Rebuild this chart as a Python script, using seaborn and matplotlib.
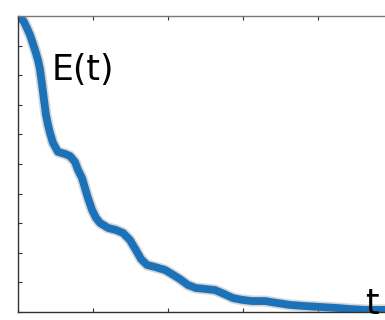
import matplotlib
matplotlib.use("Agg")
import matplotlib.pyplot as plt
import seaborn as sns
import pandas as pd

# E(t) (t in axis units 0..5, E in axis units 0..10)
t_vals = [0.01, 0.04, 0.08, 0.12, 0.16, 0.187, 0.227, 0.267, 0.293, 0.32,
          0.347, 0.373, 0.40, 0.427, 0.467, 0.533, 0.627, 0.693, 0.76, 0.80,
          0.853, 0.893, 0.933, 0.987, 1.04, 1.093, 1.2, 1.307, 1.4, 1.493,
          1.573, 1.64, 1.72, 1.827, 1.96, 2.053, 2.16, 2.267, 2.373, 2.493,
          2.627, 2.747, 2.867, 2.987, 3.12, 3.293, 3.467, 3.627, 3.827, 4.027,
          4.227, 4.427, 4.627, 4.893]
e_vals = [10.0, 9.93, 9.80, 9.59, 9.36, 9.16, 8.85, 8.51, 8.20, 7.70,
          7.16, 6.66, 6.32, 6.05, 5.71, 5.41, 5.34, 5.27, 5.07, 4.80,
          4.53, 4.19, 3.85, 3.45, 3.18, 3.01, 2.84, 2.77, 2.67, 2.43,
          2.09, 1.79, 1.59, 1.52, 1.42, 1.28, 1.11, 0.91, 0.81, 0.78,
          0.74, 0.61, 0.47, 0.41, 0.37, 0.37, 0.30, 0.24, 0.20, 0.17,
          0.14, 0.10, 0.07, 0.07]
x_ticks = [0, 1, 2, 3, 4, 5]
y_ticks = list(range(0, 11))

df = pd.DataFrame({"t": t_vals, "E": e_vals})

sns.set_theme(style="white")
plt.rcParams["font.family"] = ["DejaVu Sans"]

fig = plt.figure(figsize=(3.85, 3.2), dpi=100)
ax = fig.add_axes([18 / 385, 8 / 320, 375 / 385, 296 / 320])

# grey halo (noise look) beneath the main line
sns.lineplot(data=df, x="t", y="E", sort=False, ax=ax, color="#b5b5b5",
             linewidth=8.0, alpha=0.55, solid_capstyle="round",
             solid_joinstyle="round")
sns.lineplot(data=df, x="t", y="E", sort=False, ax=ax, color="#1b72b8",
             linewidth=5.6, solid_capstyle="round", solid_joinstyle="round")

ax.set_xlim(0, 5)
ax.set_ylim(0, 10)
ax.set_xticks(x_ticks)
ax.set_yticks(y_ticks)
ax.set_xticklabels([])
ax.set_yticklabels([])
ax.set_xlabel("")
ax.set_ylabel("")
ax.tick_params(direction="in", length=3, width=0.8, color="#333333",
               bottom=True, left=True, top=True, right=False)
for s in ["left", "bottom"]:
    ax.spines[s].set_color("#333333")
    ax.spines[s].set_linewidth(1.0)
ax.spines["top"].set_color("#777777")
ax.spines["top"].set_linewidth(1.0)
ax.spines["right"].set_visible(False)

fig.text(52 / 385, 1 - 70 / 320, "E(t)", fontsize=25, color="black",
         ha="left", va="center")
fig.text(365 / 385, 1 - 314 / 320, "t", fontsize=25, color="black",
         ha="left", va="baseline")

fig.savefig("out.png", dpi=100)
